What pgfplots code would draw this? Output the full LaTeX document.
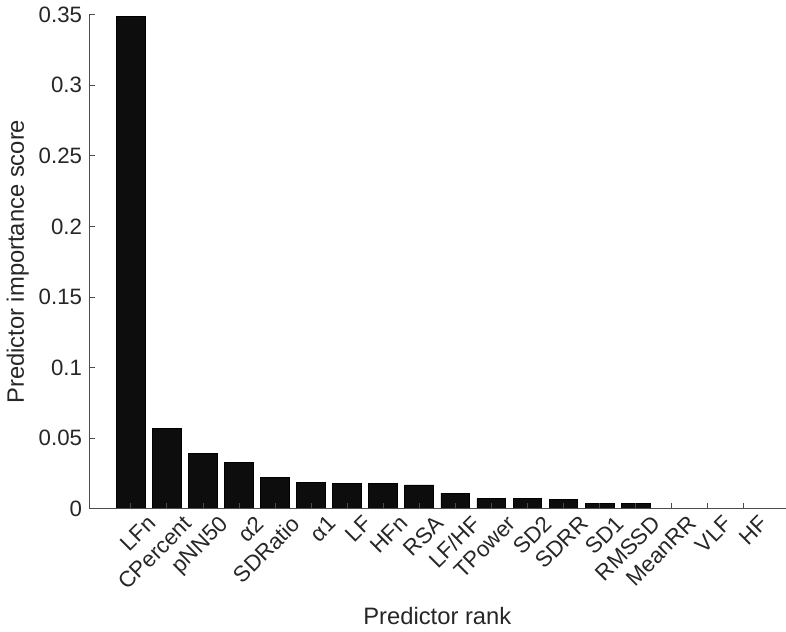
\documentclass[border=0pt]{standalone}
\usepackage{pgfplots}
\pgfplotsset{compat=1.18}
\usepackage{fontspec}
\setmainfont{Liberation Sans}
\definecolor{axgray}{gray}{0.3}
\definecolor{txtgray}{gray}{0.15}
\begin{document}
\begin{tikzpicture}
\begin{axis}[
  scale only axis,
  width=344.5pt, height=244.5pt,
  xmin=-1.16, xmax=18.16, ymin=0, ymax=0.35,
  axis x line*=bottom, axis y line*=left,
  axis line style={axgray, line width=0.5pt},
  axis on top,
  ybar, bar width=0.8, bar shift=0pt,
  xtick={0,...,17},
  xticklabels={LFn,CPercent,pNN50,α2,SDRatio,α1,LF,HFn,RSA,LF/HF,TPower,SD2,SDRR,SD1,RMSSD,MeanRR,VLF,HF},
  xticklabel style={rotate=45, anchor=north east, inner sep=1pt, xshift=4.5pt, yshift=-6pt},
  ytick={0,0.05,0.1,0.15,0.2,0.25,0.3,0.35},
  yticklabels={0,0.05,0.1,0.15,0.2,0.25,0.3,0.35},
  tick align=inside,
  major tick length=3pt,
  tick style={axgray, line width=0.5pt},
  every tick label/.append style={font=\fontsize{11}{13}\selectfont, text=txtgray},
  label style={font=\fontsize{11.75}{14}\selectfont, text=txtgray},
  xlabel={Predictor rank},
  ylabel={Predictor importance score},
  xlabel style={yshift=-3pt},
  ylabel style={yshift=-2pt},
]
\addplot[fill=black!95, draw=black] coordinates {
(0,0.349) (1,0.0569) (2,0.0395) (3,0.0329) (4,0.0221) (5,0.0186)
(6,0.0179) (7,0.0179) (8,0.0169) (9,0.0112) (10,0.0071) (11,0.0071)
(12,0.0064) (13,0.0036) (14,0.0036) (15,0) (16,0) (17,0)
};
\end{axis}
\end{tikzpicture}
\end{document}
